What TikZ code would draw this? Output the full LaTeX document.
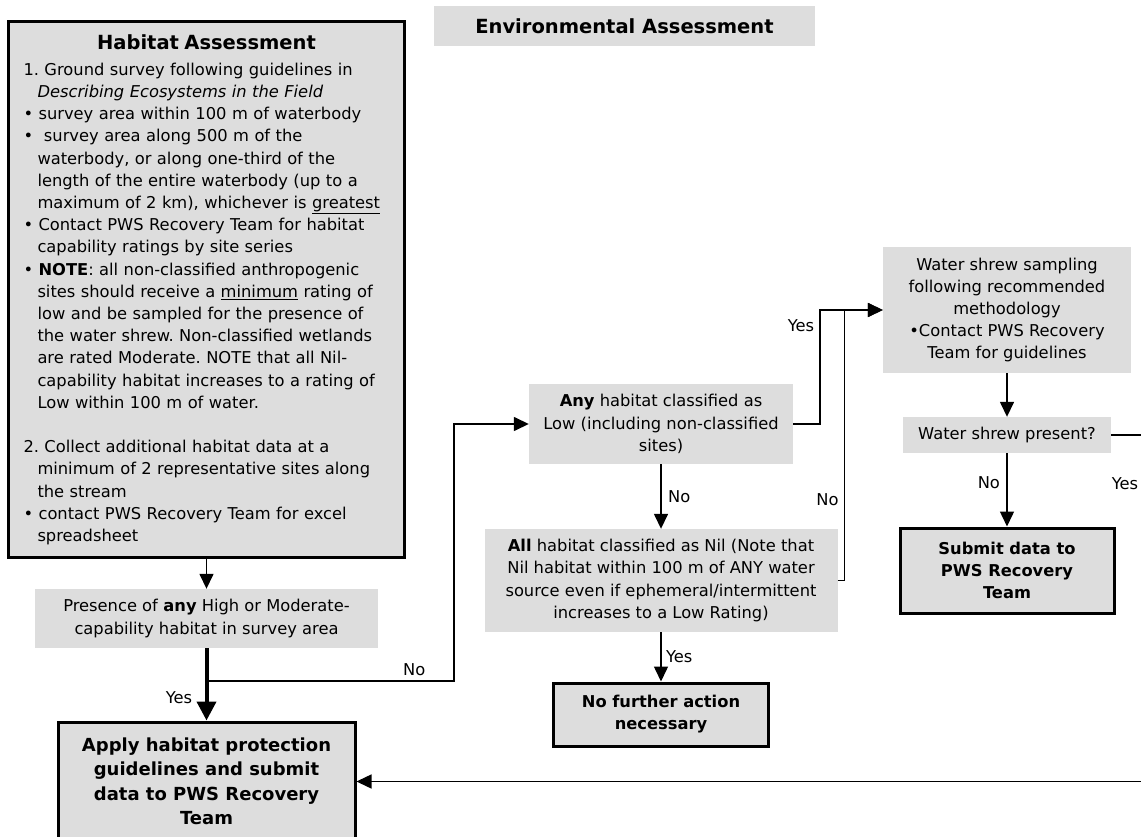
\documentclass[tikz,border=0pt]{standalone}
\usepackage{fontspec}
\setmainfont{DejaVu Sans}
\usetikzlibrary{arrows.meta,positioning,calc}
\definecolor{pwsgray}{RGB}{221,221,221}
\frenchspacing

\begin{document}
\begin{tikzpicture}[x=1pt,y=-1pt,>={Triangle[length=15pt,width=14pt]},
  every node/.style={font=\fontsize{16.3}{22.2}\selectfont},
  greybox/.style={fill=pwsgray,inner sep=0pt,align=center},
  endbox/.style={greybox,draw,line width=3pt},
  flow/.style={line width=1.5pt},
  mainflow/.style={line width=4pt,-{Triangle[length=19pt,width=19pt]}}]
  \useasboundingbox (0,0) rectangle (1141,837);
  \clip (0,0) rectangle (1141,837);

  \node[greybox,minimum width=381pt,minimum height=40pt,font=\fontsize{19.5}{22}\selectfont\bfseries] (title) at (624.5,26) {Environmental Assessment};

  \node[endbox,minimum width=396pt,minimum height=535pt,text width=366pt,inner xsep=15pt,align=left] (habitat) at (206.5,289.5) {%
    \makebox[\hsize]{\fontsize{19.5}{22}\selectfont\bfseries Habitat Assessment}\\[4pt]
    1. Ground survey following guidelines in\\
    \hspace*{14pt}\textit{Describing Ecosystems in the Field}\\
    •\ survey area within 100 m of waterbody\\
    •\ \ survey area along 500 m of the\\
    \hspace*{14pt}waterbody, or along one-third of the\\
    \hspace*{14pt}length of the entire waterbody (up to a\\
    \hspace*{14pt}maximum of 2 km), whichever is \underline{greatest}\\
    •\ Contact PWS Recovery Team for habitat\\
    \hspace*{14pt}capability ratings by site series\\
    •\ \textbf{NOTE}: all non-classified anthropogenic\\
    \hspace*{14pt}sites should receive a \underline{minimum} rating of\\
    \hspace*{14pt}low and be sampled for the presence of\\
    \hspace*{14pt}the water shrew. Non-classified wetlands\\
    \hspace*{14pt}are rated Moderate. NOTE that all Nil-\\
    \hspace*{14pt}capability habitat increases to a rating of\\
    \hspace*{14pt}Low within 100 m of water.\\[22.2pt]
    2. Collect additional habitat data at a\\
    \hspace*{14pt}minimum of 2 representative sites along\\
    \hspace*{14pt}the stream\\
    •\ contact PWS Recovery Team for excel\\
    \hspace*{14pt}spreadsheet};

  \node[greybox,minimum width=343pt,minimum height=59pt] (presence) at (206.5,618.5) {Presence of \textbf{any} High or Moderate-\\capability habitat in survey area};
  \node[endbox,minimum width=297pt,minimum height=119pt,font=\fontsize{18}{24.5}\selectfont\bfseries] (apply) at (206.5,781.5) {Apply habitat protection\\guidelines and submit\\data to PWS Recovery\\Team};

  \node[greybox,minimum width=264pt,minimum height=80pt] (any) at (661,424) {\textbf{Any} habitat classified as\\Low (including non-classified\\sites)};
  \node[greybox,minimum width=353pt,minimum height=103pt] (all) at (661,580.5) {\textbf{All} habitat classified as Nil (Note that\\Nil habitat within 100 m of ANY water\\source even if ephemeral/intermittent\\increases to a Low Rating)};
  \node[endbox,minimum width=215pt,minimum height=63pt,font=\fontsize{16.3}{22}\selectfont\bfseries] (nofurther) at (661,714.5) {No further action\\necessary};

  \node[greybox,minimum width=248pt,minimum height=126pt] (sample) at (1007,310) {Water shrew sampling\\following recommended\\methodology\\•Contact PWS Recovery\\Team for guidelines};
  \node[greybox,minimum width=208pt,minimum height=36pt] (present) at (1007,435) {Water shrew present?};
  \node[endbox,minimum width=214pt,minimum height=85pt,font=\fontsize{16.3}{22}\selectfont\bfseries] (submit) at (1007,570.5) {Submit data to\\PWS Recovery\\Team};

  % habitat side
  \draw[flow,->] (habitat) -- (presence);
  \draw[mainflow] (presence) -- node[pos=.68,left=9pt]{Yes} (apply);
  \coordinate (split) at ($(presence.south)+(0,33)$);
  \draw[flow,->] (split) -| node[pos=.42,above=1pt]{No} ($(any.west)+(-75,0)$) -- (any.west);

  % low / nil checks
  \draw[flow,->] (any) -- node[right=3pt]{No} (all);
  \draw[flow,->] (all) -- node[right=1pt]{Yes} (nofurther);
  \draw[flow,->] (any.east) -- ++(27,0) |- node[pos=.43,left=2pt]{Yes} (sample.west);
  \draw[flow,->] (all.east) -- ++(7,0) |- node[pos=.15,left=2pt]{No} (sample.west);

  % sampling
  \draw[flow,->] (sample) -- (present);
  \draw[flow,->] (present) -- node[pos=.4,left=3pt]{No} (submit);
  \draw[flow,->] (present.east) -- ++(34,0) |- node[pos=.07,left=3pt]{Yes} (apply.east);
\end{tikzpicture}
\end{document}
